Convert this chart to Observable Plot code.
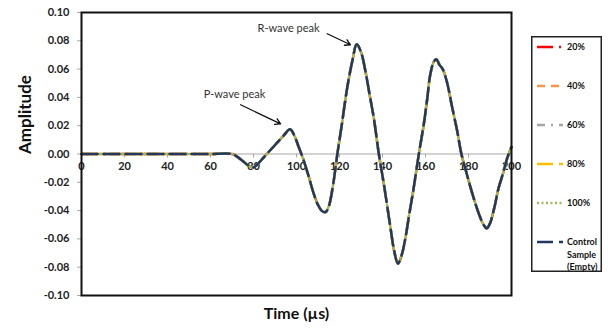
<!DOCTYPE html>
<html>
<head>
<meta charset="utf-8">
<script src="https://cdn.jsdelivr.net/npm/d3@7"></script>
<script src="https://cdn.jsdelivr.net/npm/@observablehq/plot@0.6"></script>
<style>
  html, body { margin: 0; padding: 0; background: white; }
  #wrap { position: relative; width: 608px; height: 332px; overflow: hidden; }
  #legend { position: absolute; left: 531px; top: 36px; overflow: visible; }
</style>
</head>
<body>
<div id="wrap"></div>
<script>
// ---- data (all six series overlap exactly) ----
const time = [0,10,20,30,40,50,60,70,72,75,78,80,82,85,88,91,94,97,99,101,103,105.5,108,110,112,113.5,115,117,119,121,123.5,126,128,130,132,134,136,138.3,140.6,143.7,145.5,147.2,149,150.7,152.5,154.3,156.9,159.2,160.8,162.2,163.8,165,166.5,168,170,172.4,174.7,176.7,179,181,183,185,187,188.5,190,192,194,196,198,200];
const amplitude = [0,0,0,0,0,0,0,0,-0.0015,-0.005,-0.0085,-0.0095,-0.007,-0.002,0.003,0.008,0.013,0.0175,0.013,0.005,-0.003,-0.015,-0.028,-0.036,-0.0405,-0.041,-0.037,-0.022,0,0.02,0.046,0.066,0.0775,0.072,0.059,0.042,0.025,0,-0.021,-0.052,-0.069,-0.0775,-0.071,-0.059,-0.042,-0.026,0,0.021,0.039,0.056,0.065,0.067,0.063,0.06,0.0507,0.033,0.0166,0,-0.013,-0.024,-0.034,-0.043,-0.05,-0.0525,-0.049,-0.038,-0.024,-0.014,-0.003,0.005];
const seriesNames = ["20%", "40%", "60%", "80%", "100%", "Control Sample (Empty)"];
const xTicks = [0, 20, 40, 60, 80, 100, 120, 140, 160, 180, 200];
const yTicks = [-0.1, -0.08, -0.06, -0.04, -0.02, 0, 0.02, 0.04, 0.06, 0.08, 0.1];
const annotText = ["R-wave peak", "P-wave peak"];
const annotX = [96.3, 71.2];
const annotY = [0.0887, 0.042];
const arrowX1 = [114.3, 74];
const arrowY1 = [0.085, 0.0348];
const arrowX2 = [125.1, 92.6];
const arrowY2 = [0.0772, 0.0213];

// ---- styles ----
const seriesColors = ["#ff0000", "#f79646", "#a5a5a5", "#ffc000", "#9bbb59", "#1f3864"];
const seriesDash = ["16,6,2,6", "8,6", "8,6,2,6", "16,6", "2,2.5", "16,6"];
const FONT = "Lato, 'Open Sans', sans-serif";

const rows = time.map((t, i) => ({t, v: amplitude[i]}));
const annots = annotText.map((text, i) => ({text, x: annotX[i], y: annotY[i]}));
const arrows = arrowX1.map((x1, i) => ({x1, y1: arrowY1[i], x2: arrowX2[i], y2: arrowY2[i]}));

const lineMarks = seriesNames.map((name, i) =>
  Plot.line(rows, {
    x: "t", y: "v",
    stroke: seriesColors[i],
    strokeWidth: 2.5,
    strokeDasharray: seriesDash[i],
    curve: "catmull-rom"
  })
);

const chart = Plot.plot({
  width: 608,
  height: 332,
  marginLeft: 81,
  marginRight: 97,
  marginTop: 12,
  marginBottom: 37,
  style: {fontFamily: FONT, background: "white", overflow: "visible"},
  x: {domain: [0, 200], axis: null},
  y: {domain: [-0.1, 0.1], axis: null},
  marks: [
    Plot.ruleY([0], {stroke: "#c4c4c4", strokeWidth: 1.3}),
    Plot.ruleX(xTicks, {x: d => d, y1: 0, y2: 0, insetBottom: -4, stroke: "#a8a8a8"}),
    Plot.text(xTicks, {x: d => d, y: 0, text: d => String(d), dy: 12, fontWeight: "bold", fontSize: 11, fill: "#222"}),
    Plot.axisY({ticks: yTicks, tickSize: 4, tickPadding: 8, tickFormat: d => d.toFixed(2),
      fontWeight: "bold", fontSize: 11, fill: "#222", stroke: "#a8a8a8", label: null}),
    ...lineMarks,
    Plot.text(annots, {x: "x", y: "y", text: "text", fontSize: 11, fill: "#333"}),
    Plot.arrow(arrows, {x1: "x1", y1: "y1", x2: "x2", y2: "y2", stroke: "#111", strokeWidth: 1.3, headLength: 7}),
    Plot.text(["Amplitude"], {frameAnchor: "left", rotate: -90, dx: -56, fontSize: 17, fontWeight: "bold", fill: "#111"}),
    Plot.text(["Time (µs)"], {frameAnchor: "bottom", dy: 23, fontSize: 16, fontWeight: "bold", fill: "#111"}),
    Plot.frame({stroke: "#111", strokeWidth: 2})
  ]
});
document.getElementById("wrap").appendChild(chart);

// ---- legend (right side box) ----
const lw = 71, lh = 236;
const leg = d3.select("#wrap").append("svg")
  .attr("id", "legend").attr("width", lw).attr("height", lh)
  .style("font-family", FONT);
leg.append("rect").attr("x", 0.75).attr("y", 0.75).attr("width", lw - 1.5).attr("height", lh - 1.5)
  .attr("fill", "white").attr("stroke", "#222").attr("stroke-width", 1.5);
const labelLines = [["20%"], ["40%"], ["60%"], ["80%"], ["100%"], ["Control", "Sample", "(Empty)"]];
seriesNames.forEach((name, i) => {
  const y = 11 + i * 39;
  leg.append("line").attr("x1", 6).attr("x2", 32).attr("y1", y).attr("y2", y)
    .attr("stroke", seriesColors[i]).attr("stroke-width", 2.5).attr("stroke-dasharray", seriesDash[i]);
  const t = leg.append("text").attr("x", 36).attr("y", y)
    .attr("font-size", 9).attr("font-weight", "bold").attr("fill", "#111");
  labelLines[i].forEach((ln, j) => {
    t.append("tspan").attr("x", 36).attr("dy", j === 0 ? "0.35em" : "12.5px").text(ln);
  });
});
</script>
</body>
</html>
